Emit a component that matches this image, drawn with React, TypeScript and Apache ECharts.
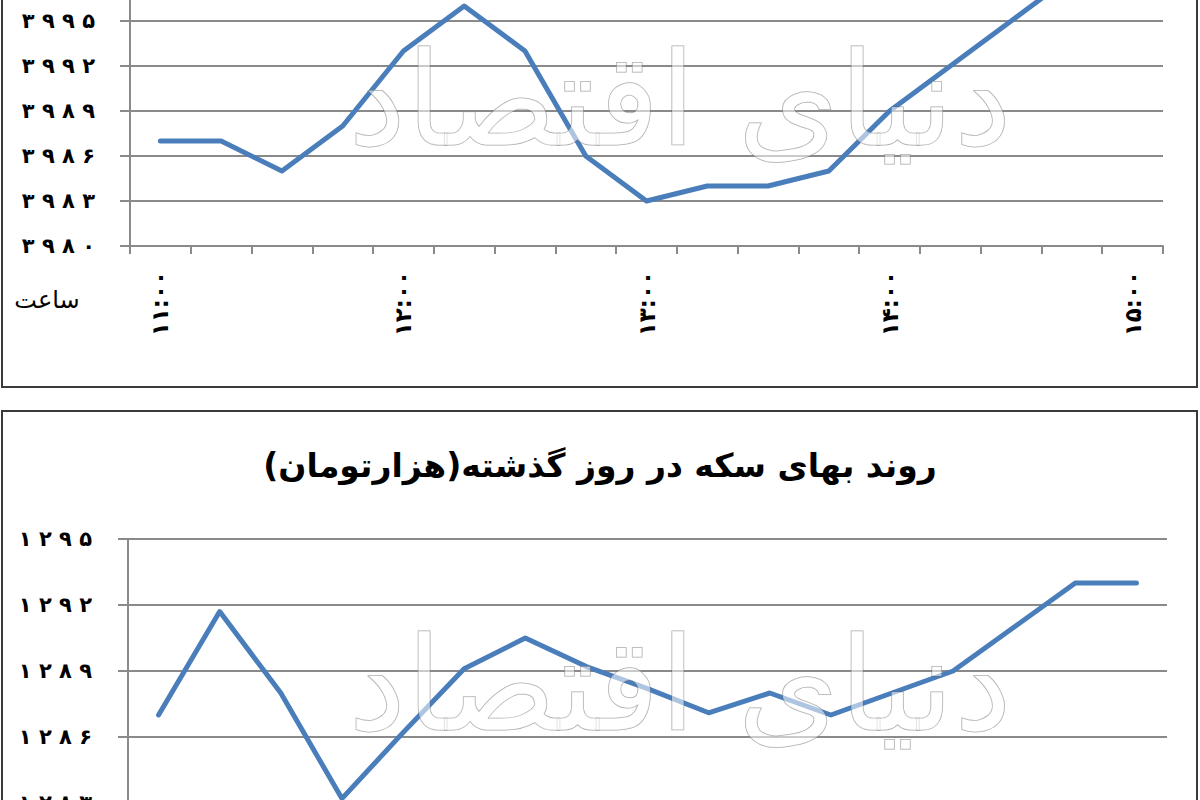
import React, { useEffect, useRef } from "react";
import * as echarts from "echarts";

// ---- data ----
const timeLabels = [
  "11:00", "11:15", "11:30", "11:45", "12:00", "12:15", "12:30", "12:45",
  "13:00", "13:15", "13:30", "13:45", "14:00", "14:15", "14:30", "14:45", "15:00",
];
const dollarValues = [
  3987, 3987, 3985, 3988, 3993, 3996, 3993, 3986, 3983, 3984, 3984, 3985, 3989, 3992, 3995, 3998, 4001,
];
const coinValues = [
  1287.0, 1291.7, 1288.0, 1283.2, 1286.2, 1289.1, 1290.5, 1289.2, 1288.2, 1287.1, 1288.0, 1287.0, 1288.0,
  1289.0, 1291.0, 1293.0, 1293.0,
];
const dollarAxis = { min: 3980, max: 4001, step: 3, lastShown: 3995 };
const coinAxis = { min: 1280, max: 1295, step: 3, firstShown: 1283 };
const coinTitle = "روند بهای سکه در روز گذشته(هزارتومان)";
const hourLabel = "ساعت";
const watermark = "دنیای اقتصاد";

const FA = "۰۱۲۳۴۵۶۷۸۹";
const fa = (v: string | number) => String(v).replace(/\d/g, (d) => FA[+d]);
const spaced = (s: string) => s.split("").join(" ");

const OFFSET = 200;
const FONT = "DejaVu Sans";
const LINE = "#4a7ebb";
const GRID = "#8a8a8a";

export default function App() {
  const ref = useRef<HTMLDivElement>(null);
  useEffect(() => {
    if (!ref.current) return;
    const chart = echarts.init(ref.current, undefined, { renderer: "svg" });
    const yAxisBase = (
      ax: { min: number; max: number; step: number },
      margin: number,
      keep: (v: number) => boolean
    ) => ({
      type: "value",
      min: ax.min,
      max: ax.max,
      interval: ax.step,
      axisLine: { show: true, lineStyle: { color: GRID, width: 2 } },
      axisTick: { show: true, length: 10, lineStyle: { color: GRID, width: 2 } },
      splitLine: { show: true, lineStyle: { color: GRID, width: 2 } },
      axisLabel: {
        margin,
        color: "#000",
        fontFamily: FONT,
        fontWeight: "bold",
        fontSize: 21,
        formatter: (v: number) => (keep(v) ? spaced(fa(v)) : ""),
      },
    });
    const xAxisBase = (gridIndex: number, showLabels: boolean) => ({
      type: "category",
      gridIndex,
      data: timeLabels,
      boundaryGap: true,
      axisLine: { show: true, lineStyle: { color: GRID, width: 2 } },
      axisTick: { show: true, interval: 0, length: 8, lineStyle: { color: GRID, width: 2 } },
      axisLabel: {
        show: showLabels,
        interval: 3,
        rotate: 90,
        margin: 25,
        color: "#000",
        fontFamily: FONT,
        fontWeight: "bold",
        fontSize: 23,
        formatter: (v: string) => fa(v),
      },
    });
    const wmStyle = {
      text: watermark,
      fill: "rgba(255,255,255,0.55)",
      stroke: "rgba(90,90,90,0.55)",
      lineWidth: 1,
      font: `130px "${FONT}"`,
      textAlign: "center",
      textVerticalAlign: "middle",
    };
    chart.setOption({
      animation: false,
      backgroundColor: "#fff",
      grid: [
        { left: 130, top: 131, width: 1033, height: 315 },
        { left: 128, top: 739, width: 1039, height: 330 },
      ],
      xAxis: [xAxisBase(0, true), xAxisBase(1, false)],
      yAxis: [
        { ...yAxisBase(dollarAxis, 35, (v) => v <= dollarAxis.lastShown), gridIndex: 0 },
        { ...yAxisBase(coinAxis, 36, (v) => v >= coinAxis.firstShown), gridIndex: 1 },
      ],
      series: [
        {
          type: "line",
          xAxisIndex: 0,
          yAxisIndex: 0,
          data: dollarValues,
          symbol: "none",
          clip: false,
          lineStyle: { color: LINE, width: 5, cap: "round", join: "round" },
        },
        {
          type: "line",
          xAxisIndex: 1,
          yAxisIndex: 1,
          data: coinValues,
          symbol: "none",
          clip: false,
          lineStyle: { color: LINE, width: 5, cap: "round", join: "round" },
        },
      ],
      graphic: [
        {
          type: "rect",
          shape: { x: 2, y: 20, width: 1195, height: 567 },
          style: { fill: "none", stroke: "#3a3a3a", lineWidth: 2 },
          silent: true,
        },
        {
          type: "rect",
          shape: { x: 2, y: 611, width: 1195, height: 560 },
          style: { fill: "none", stroke: "#3a3a3a", lineWidth: 2 },
          silent: true,
        },
        {
          type: "text",
          x: 680,
          y: 300,
          z: 10,
          silent: true,
          style: wmStyle,
        },
        {
          type: "text",
          x: 680,
          y: 885,
          z: 10,
          silent: true,
          style: wmStyle,
        },
        {
          type: "text",
          x: 47,
          y: 500,
          style: {
            text: hourLabel,
            fill: "#000",
            font: `24px "${FONT}"`,
            textAlign: "center",
            textVerticalAlign: "middle",
          },
        },
        {
          type: "text",
          x: 600,
          y: 665,
          style: {
            text: coinTitle,
            fill: "#000",
            font: `bold 33px "${FONT}"`,
            textAlign: "center",
            textVerticalAlign: "middle",
          },
        },
      ],
    });
    return () => chart.dispose();
  }, []);
  return (
    <div
      style={{
        position: "fixed",
        left: 0,
        top: 0,
        width: 1200,
        height: 800,
        overflow: "hidden",
        background: "#fff",
      }}
    >
      <div ref={ref} style={{ position: "absolute", left: 0, top: -OFFSET, width: 1200, height: 1200 }} />
    </div>
  );
}
